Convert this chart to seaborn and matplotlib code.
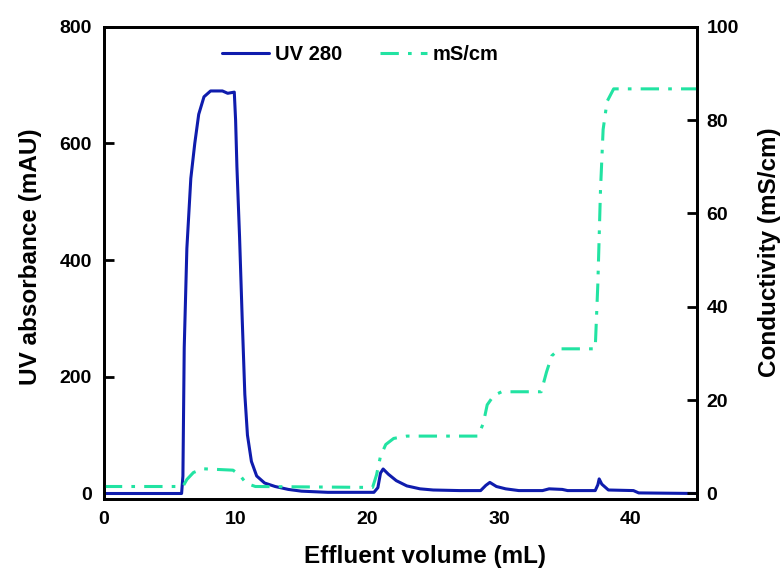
import matplotlib
matplotlib.use("Agg")
import matplotlib.pyplot as plt
import seaborn as sns
import pandas as pd

# UV 280 trace (mAU)
uv_volume = [0, 5.9, 6.0, 6.1, 6.3, 6.6, 6.9, 7.2, 7.6, 8.1, 9.0, 9.4, 9.9, 10.0, 10.1,
             10.3, 10.5, 10.7, 10.9, 11.2, 11.6, 12.2, 13.0, 14.0, 15.0, 17.0, 20.5,
             20.8, 21.0, 21.2, 21.6, 22.2, 23.0, 24.0, 25.0, 27.0, 28.6, 29.0, 29.3,
             29.8, 30.5, 31.5, 33.3, 33.8, 34.8, 35.2, 37.3, 37.5, 37.6, 37.8, 38.3,
             40.2, 40.6, 45.0]
uv_mau = [0, 0, 30, 250, 420, 540, 600, 650, 680, 690, 690, 686, 688, 640, 560,
          440, 300, 170, 100, 55, 30, 18, 12, 7, 4, 2, 2,
          10, 35, 42, 33, 22, 13, 8, 6, 5, 5, 14, 19,
          12, 8, 5, 5, 8, 7, 5, 5, 15, 25, 16, 6,
          5, 1, 0]

# conductivity trace (mS/cm)
cond_volume = [0, 6.0, 6.3, 6.8, 7.5, 9.8, 10.3, 10.8, 11.5, 20.4, 20.7, 21.0, 21.4,
               22.0, 23.0, 28.4, 28.8, 29.1, 29.6, 30.2, 33.2, 33.6, 34.0, 34.6, 37.3,
               37.5, 37.7, 37.9, 38.2, 38.7, 45.0]
cond_ms = [1.5, 1.5, 3.0, 4.5, 5.3, 5.0, 4.0, 2.2, 1.5, 1.3, 4.0, 8.0, 10.5,
           11.8, 12.3, 12.3, 15.0, 19.0, 21.0, 21.8, 21.8, 26.0, 29.5, 31.0, 31.0,
           45.0, 65.0, 78.0, 84.0, 86.7, 86.7]

uv_df = pd.DataFrame({"volume": uv_volume, "uv": uv_mau})
cond_df = pd.DataFrame({"volume": cond_volume, "cond": cond_ms})

sns.set_style("white")
plt.rcParams["font.family"] = ["Liberation Sans", "DejaVu Sans"]
plt.rcParams["font.weight"] = "bold"
plt.rcParams["text.color"] = "black"
plt.rcParams["axes.labelcolor"] = "black"

blue = "#0f1cad"
green = "#22e3a2"

fig = plt.figure(figsize=(7.81, 5.70), dpi=100)
ax = fig.add_axes([0.133, 0.125, 0.759, 0.828])
ax2 = ax.twinx()

sns.lineplot(data=uv_df, x="volume", y="uv", ax=ax, color=blue, linewidth=2.2,
             label="UV 280", legend=False)
sns.lineplot(data=cond_df, x="volume", y="cond", ax=ax2, color=green, linewidth=2.2,
             label="mS/cm", legend=False, dashes=False)
ax2.lines[0].set_dashes([6, 3, 1.2, 3])

ax.set_xlim(0, 45)
ax.set_ylim(-9, 800)
ax2.set_ylim(-1.125, 100)
ax.set_xticks([0, 10, 20, 30, 40])
ax.set_yticks([0, 200, 400, 600, 800])
ax2.set_yticks([0, 20, 40, 60, 80, 100])

ax.set_xlabel("Effluent volume (mL)", fontsize=17.5, fontweight="bold")
ax.set_ylabel("UV absorbance (mAU)", fontsize=17.5, fontweight="bold")
ax2.set_ylabel("Conductivity (mS/cm)", fontsize=17.5, fontweight="bold")
ax.xaxis.set_label_coords(0.541, -0.0975)
ax.yaxis.set_label_coords(-0.105, 0.513)
ax2.yaxis.set_label_coords(1.103, 0.523)

for a in (ax, ax2):
    for s in a.spines.values():
        s.set_color("black")
        s.set_linewidth(2)
    a.tick_params(direction="in", length=7, width=2, labelsize=14, colors="black")
ax.tick_params(axis="x", pad=9)
ax.tick_params(axis="y", pad=8.5)
ax2.tick_params(axis="y", pad=7)
for lab in ax.get_xticklabels() + ax.get_yticklabels() + ax2.get_yticklabels():
    lab.set_fontweight("bold")

handles = ax.lines[:1] + ax2.lines[:1]
ax.legend(handles, ["UV 280", "mS/cm"], loc="upper center", bbox_to_anchor=(0.433, 1.0),
          ncol=2, frameon=False, prop={"size": 14.5, "weight": "bold"},
          handlelength=2.3, columnspacing=1.9, handletextpad=0.3)

fig.savefig("out.png", dpi=100)
